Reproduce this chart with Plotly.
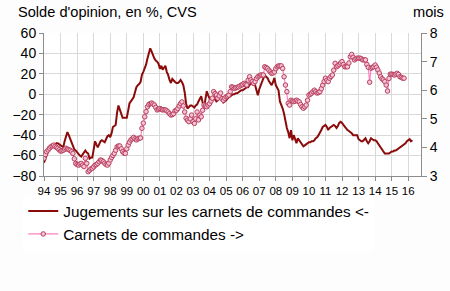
import pandas as pd
import plotly.graph_objects as go

# Jugements sur les carnets de commandes (solde, %, CVS) - monthly from Jan 1994
jugements_by_year = {
    1994: [-67, -63, -60, -56, -54, -52, -51, -50, -49, -48, -48, -49],
    1995: [-50, -51, -52, -46, -40, -37, -40, -44, -48, -52, -54, -55],
    1996: [-57, -58, -60, -61, -59, -56, -55, -57, -58, -63, -62, -62],
    1997: [-55, -46, -49, -52, -49, -46, -45, -46, -47, -44, -41, -40],
    1998: [-42, -38, -32, -31, -30, -18, -11, -15, -20, -23, -23, -23],
    1999: [-23, -16, -9, -7, -5, -3, 2, 7, 9, 10, 12, 19],
    2000: [22, 25, 29, 35, 40, 45, 42, 38, 35, 33, 32, 30],
    2001: [25, 28, 24, 26, 28, 22, 19, 14, 11, 15, 13, 12],
    2002: [11, 11, 12, 14, 12, 9, 2, -9, -14, -12, -11, -11],
    2003: [-12, -13, -11, -10, -7, -4, -2, -8, -14, -5, 3, -1],
    2004: [-4, -9, -6, -2, -5, -7, -6, -3, -2, -6, -8, -7],
    2005: [-6, -4, -3, -2, -1, 0, 0, 1, 1, 2, 3, 4],
    2006: [4, 5, 6, 7, 7, 9, 11, 10, 9, 9, 3, -1],
    2007: [5, 9, 13, 16, 19, 17, 16, 13, 11, 9, 12, 16],
    2008: [9, 6, 4, -7, -10, -14, -19, -28, -33, -37, -43, -35],
    2009: [-45, -40, -44, -48, -43, -45, -46, -49, -51, -50, -49, -48],
    2010: [-47, -47, -46, -46, -45, -43, -42, -40, -38, -35, -32, -31],
    2011: [-30, -32, -35, -33, -32, -31, -30, -31, -33, -31, -28, -27],
    2012: [-28, -30, -32, -34, -35, -36, -37, -38, -40, -40, -40, -40],
    2013: [-44, -45, -46, -46, -44, -43, -46, -48, -46, -43, -44, -45],
    2014: [-45, -46, -48, -50, -51, -54, -56, -58, -58, -58, -58, -57],
    2015: [-56, -56, -55, -55, -54, -53, -52, -51, -50, -49, -48, -46],
    2016: [-45, -44, -46, -45],
}

# Carnets de commandes (en mois) - monthly from Jan 1994
carnets_by_year = {
    1994: [3.62, 3.75, 3.85, 3.91, 3.97, 4.02, 4.05, 4.08, 4.04, 4.0, 3.97, 3.92],
    1995: [3.87, 3.88, 3.9, 3.94, 3.97, 3.94, 3.92, 3.9, 3.85, 3.79, 3.6, 3.44],
    1996: [3.4, 3.38, 3.42, 3.44, 3.38, 3.33, 3.62, 3.44, 3.15, 3.2, 3.25, 3.27],
    1997: [3.32, 3.38, 3.4, 3.44, 3.5, 3.56, 3.54, 3.5, 3.45, 3.4, 3.38, 3.45],
    1998: [3.56, 3.65, 3.72, 3.79, 3.9, 4.02, 4.05, 4.05, 3.95, 3.85, 3.8, 3.79],
    1999: [3.95, 4.08, 4.18, 4.26, 4.3, 4.35, 4.3, 4.26, 4.3, 4.32, 4.33, 4.67],
    2000: [4.85, 5.07, 5.25, 5.42, 5.5, 5.53, 5.55, 5.52, 5.48, 5.4, 5.31, 5.34],
    2001: [5.36, 5.33, 5.31, 5.32, 5.31, 5.28, 5.24, 5.18, 5.13, 5.15, 5.18, 5.28],
    2002: [5.3, 5.36, 5.45, 5.53, 5.59, 5.45, 5.24, 5.02, 4.95, 4.9, 5.0, 5.13],
    2003: [4.9, 4.84, 5.0, 5.24, 4.96, 5.13, 5.07, 5.3, 5.48, 5.45, 5.42, 5.48],
    2004: [5.53, 5.62, 5.72, 5.95, 5.88, 5.83, 5.72, 5.8, 5.9, 5.7, 5.65, 5.72],
    2005: [5.77, 5.8, 5.83, 5.95, 6.12, 6.1, 6.06, 6.08, 6.1, 6.12, 6.15, 6.18],
    2006: [6.2, 6.24, 6.2, 6.18, 6.35, 6.47, 6.36, 6.3, 6.24, 6.3, 6.41, 6.47],
    2007: [6.5, 6.53, 6.53, 6.53, 6.82, 6.79, 6.76, 6.7, 6.64, 6.59, 6.6, 6.64],
    2008: [6.75, 6.82, 6.85, 6.85, 6.85, 6.76, 6.47, 6.18, 5.95, 5.54, 5.48, 5.65],
    2009: [5.62, 5.6, 5.62, 5.65, 5.62, 5.59, 5.5, 5.42, 5.37, 5.42, 5.48, 5.65],
    2010: [5.83, 5.86, 5.9, 5.95, 6.0, 5.95, 5.9, 5.92, 5.95, 6.05, 6.18, 6.3],
    2011: [6.42, 6.35, 6.3, 6.42, 6.48, 6.53, 6.7, 6.94, 6.82, 6.85, 6.9, 6.95],
    2012: [7.0, 6.9, 6.82, 6.82, 6.82, 6.95, 7.17, 7.25, 7.15, 7.06, 7.1, 7.12],
    2013: [7.12, 7.12, 7.1, 7.06, 7.06, 7.06, 6.9, 6.8, 6.28, 6.77, 6.8, 6.82],
    2014: [6.88, 6.8, 6.71, 6.6, 6.47, 6.4, 6.36, 6.3, 6.18, 5.97, 6.41, 6.56],
    2015: [6.56, 6.55, 6.53, 6.56, 6.59, 6.55, 6.47, 6.45, 6.42, 6.42],
}

year_tick_labels = ["94", "95", "96", "97", "98", "99", "00", "01", "02", "03", "04",
                    "05", "06", "07", "08", "09", "10", "11", "12", "13", "14", "15", "16"]


def monthly(series_by_year):
    dates, vals = [], []
    for yr, v in series_by_year.items():
        for m, val in enumerate(v):
            dates.append(pd.Timestamp(year=yr, month=m + 1, day=1))
            vals.append(val)
    return dates, vals


j_dates, j_vals = monthly(jugements_by_year)
c_dates, c_vals = monthly(carnets_by_year)
tick_dates = [pd.Timestamp(year=1994 + i, month=1, day=1) for i in range(len(year_tick_labels))]

FONT = "Liberation Sans, Arial, sans-serif"

fig = go.Figure()
fig.add_trace(go.Scatter(
    x=j_dates, y=j_vals, mode="lines", name="Jugements sur les carnets de commandes <-",
    line=dict(color="#8b0a0a", width=2), yaxis="y"))
fig.add_trace(go.Scatter(
    x=c_dates, y=c_vals, mode="lines+markers", name="Carnets de commandes ->",
    line=dict(color="#ff80bf", width=1.2),
    marker=dict(symbol="circle", size=4.5, color="#f7c3d6", line=dict(color="#b8405f", width=1)),
    yaxis="y2"))

fig.update_layout(
    width=450, height=291,
    margin=dict(l=36, r=19, t=33, b=115),
    paper_bgcolor="#fdfdfd", plot_bgcolor="#ffffff",
    font=dict(family=FONT, size=14, color="#000000"),
    showlegend=True,
    legend=dict(x=-0.055, y=-0.13, xanchor="left", yanchor="top",
                bgcolor="#ffffff", font=dict(size=15.3, family=FONT),
                tracegroupgap=0, itemwidth=30),
    xaxis=dict(type="date", range=["1994-01-01", "2016-10-08"],
               tickvals=tick_dates, ticktext=year_tick_labels,
               tickfont=dict(size=11.5), showgrid=True, gridcolor="#d9d9d9", gridwidth=1,
               showline=True, linecolor="#8c8c8c", ticks="outside", ticklen=4,
               tickcolor="#8c8c8c", zeroline=False),
    yaxis=dict(range=[-80, 60], dtick=20, tick0=-80, showgrid=True, gridcolor="#d9d9d9",
               showline=True, linecolor="#8c8c8c", ticks="outside", ticklen=4,
               tickcolor="#8c8c8c", zeroline=False, tickfont=dict(size=14)),
    yaxis2=dict(range=[3, 8], dtick=1, tick0=3, overlaying="y", side="right",
                showgrid=False, showline=True, linecolor="#8c8c8c", ticks="outside",
                ticklen=5, tickcolor="#8c8c8c", zeroline=False, tickfont=dict(size=14)),
    annotations=[
        dict(text="Solde d'opinion, en %, CVS", xref="paper", yref="paper",
             x=-0.075, y=1.15, xanchor="left", yanchor="middle", showarrow=False,
             font=dict(size=14.6, family=FONT)),
        dict(text="mois", xref="paper", yref="paper", x=1.065, y=1.15,
             xanchor="right", yanchor="middle", showarrow=False,
             font=dict(size=14.6, family=FONT)),
    ],
)

fig.write_html("out.html")
